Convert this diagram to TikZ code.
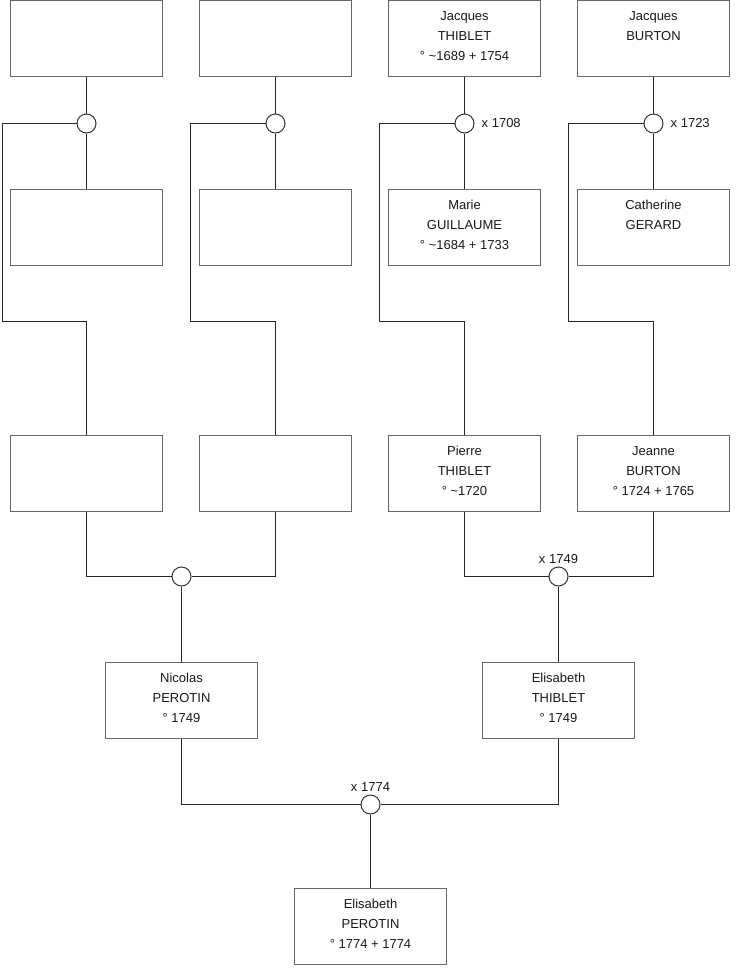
\documentclass[tikz,border=0pt]{standalone}
\usepackage{fontspec}
\setmainfont{Liberation Sans}
\newcommand{\tld}{\char"7E\relax}
\begin{document}
\begin{tikzpicture}[x=1pt,y=-1pt,
  person/.style={draw=black!60, line width=1pt, minimum width=152pt, minimum height=76pt, inner sep=0pt, fill=white},
  txt/.style={align=center, inner sep=0pt, font=\fontsize{13}{20}\selectfont, text=black!90},
  union/.style={circle, draw=black!80, line width=1pt, minimum size=19pt, inner sep=0pt, fill=white},
  lbl/.style={inner sep=0pt, font=\fontsize{13}{15}\selectfont, text=black!90},
  link/.style={draw=black!85, line width=1pt}]
\useasboundingbox (0,0) rectangle (740,975);
% top row
\node[person] (a1) at (86.5,38.5) {};
\node[person] (a2) at (275.5,38.5) {};
\node[person] (a3) at (464.5,38.5) {};
\node[person] (a4) at (653.5,38.5) {};
% second row
\node[person] (s1) at (86.5,227.5) {};
\node[person] (s2) at (275.5,227.5) {};
\node[person] (s3) at (464.5,227.5) {};
\node[person] (s4) at (653.5,227.5) {};
% third row
\node[person] (p1) at (86.5,473.5) {};
\node[person] (p2) at (275.5,473.5) {};
\node[person] (p3) at (464.5,473.5) {};
\node[person] (p4) at (653.5,473.5) {};
% fourth row
\node[person] (c1) at (181.5,700.5) {};
\node[person] (c2) at (558.5,700.5) {};
% bottom
\node[person] (e1) at (370.5,926.5) {};
% unions
\node[union] (u1) at (86.5,123.5) {};
\node[union] (u2) at (275.5,123.5) {};
\node[union] (u3) at (464.5,123.5) {};
\node[union] (u4) at (653.5,123.5) {};
\node[union] (v1) at (181.5,576.5) {};
\node[union] (v2) at (558.5,576.5) {};
\node[union] (w1) at (370.5,804.5) {};
% bend coordinates
\coordinate (k1) at (2.5,321.5);
\coordinate (k2) at (190.5,321.5);
\coordinate (k3) at (379.5,321.5);
\coordinate (k4) at (568.5,321.5);
% connectors
\draw[link] (a1.south) -- (u1.north);
\draw[link] (u1.south) -- (s1.north);
\draw[link] (a2.south) -- (u2.north);
\draw[link] (u2.south) -- (s2.north);
\draw[link] (a3.south) -- (u3.north);
\draw[link] (u3.south) -- (s3.north);
\draw[link] (a4.south) -- (u4.north);
\draw[link] (u4.south) -- (s4.north);
\draw[link] (u1.west) -| (k1) -| (p1.north);
\draw[link] (u2.west) -| (k2) -| (p2.north);
\draw[link] (u3.west) -| (k3) -| (p3.north);
\draw[link] (u4.west) -| (k4) -| (p4.north);
\draw[link] (p1.south) |- (v1.west);
\draw[link] (p2.south) |- (v1.east);
\draw[link] (p3.south) |- (v2.west);
\draw[link] (p4.south) |- (v2.east);
\draw[link] (v1.south) -- (c1.north);
\draw[link] (v2.south) -- (c2.north);
\draw[link] (c1.south) |- (w1.west);
\draw[link] (c2.south) |- (w1.east);
\draw[link] (w1.south) -- (e1.north);
% texts
\node[txt, anchor=north] at ([yshift=-11]a3.north) {Jacques\\THIBLET\\° \tld1689 + 1754};
\node[txt, anchor=north] at ([yshift=-11]a4.north) {Jacques\\BURTON};
\node[txt, anchor=north] at ([yshift=-11]s3.north) {Marie\\GUILLAUME\\° \tld1684 + 1733};
\node[txt, anchor=north] at ([yshift=-11]s4.north) {Catherine\\GERARD};
\node[txt, anchor=north] at ([yshift=-11]p3.north) {Pierre\\THIBLET\\° \tld1720};
\node[txt, anchor=north] at ([yshift=-11]p4.north) {Jeanne\\BURTON\\° 1724 + 1765};
\node[txt, anchor=north] at ([yshift=-11]c1.north) {Nicolas\\PEROTIN\\° 1749};
\node[txt, anchor=north] at ([yshift=-11]c2.north) {Elisabeth\\THIBLET\\° 1749};
\node[txt, anchor=north] at ([yshift=-11]e1.north) {Elisabeth\\PEROTIN\\° 1774 + 1774};
% union labels
\node[lbl, anchor=west] (l3) at ([xshift=7]u3.east) {x 1708};
\node[lbl, anchor=west] (l4) at ([xshift=7]u4.east) {x 1723};
\node[lbl, anchor=south] (lv2) at ([yshift=3]v2.north) {x 1749};
\node[lbl, anchor=south] (lw1) at ([yshift=3]w1.north) {x 1774};
\end{tikzpicture}
\end{document}
